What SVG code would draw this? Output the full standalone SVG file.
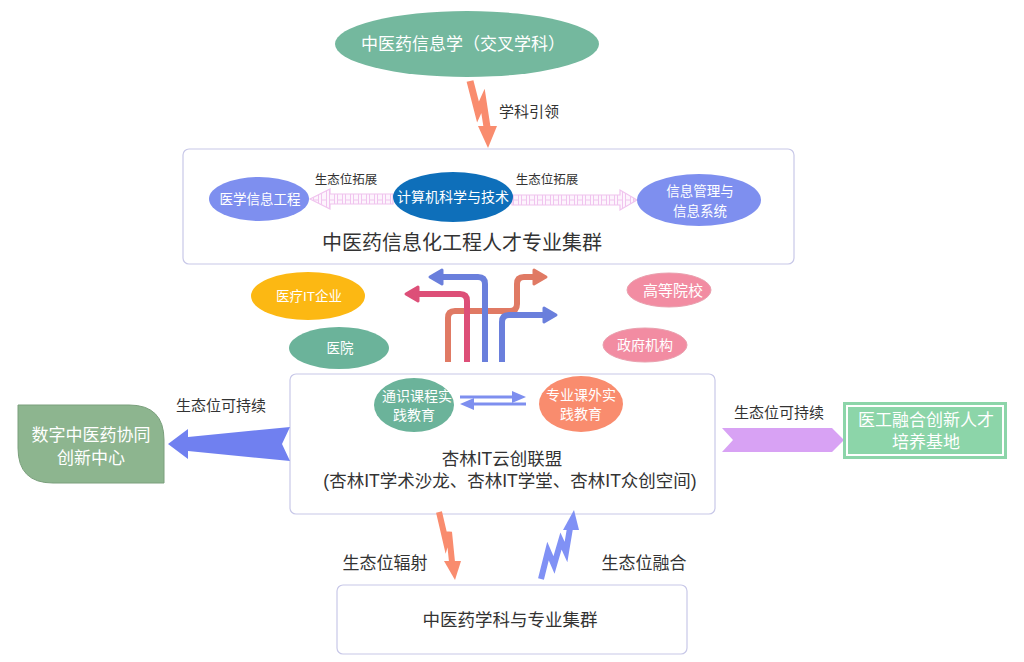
<svg xmlns="http://www.w3.org/2000/svg" width="1024" height="662" viewBox="0 0 1024 662">
<defs>
<style>
.t{font-family:"Liberation Sans","Noto Sans CJK SC",sans-serif;}
.w{fill:#ffffff;}
.d{fill:#333333;}
.box{fill:#ffffff;stroke:#c8c8e8;stroke-width:1.2;}
.br{fill:none;stroke-width:6;stroke-linejoin:round;stroke-linecap:butt;}
</style>
<pattern id="dash" x="0" y="0" width="8" height="20" patternUnits="userSpaceOnUse">
<rect x="0" y="0" width="8" height="20" fill="#fdf4fd"/>
<rect x="1.5" y="0" width="5" height="20" fill="none" stroke="#f0c4ee" stroke-width="1"/>
</pattern>
</defs>
<rect width="1024" height="662" fill="#ffffff"/>

<g id="node-cluster1" class="t">
<rect x="183" y="149" width="611" height="115" rx="6" class="box"/>
<text x="462" y="250" font-size="20" text-anchor="middle" class="d">中医药信息化工程人才专业集群</text>
</g>
<g id="node-alliance" class="t">
<rect x="290" y="374" width="425" height="140" rx="6" class="box"/>
<text x="502" y="465" font-size="17.5" text-anchor="middle" class="d">杏林IT云创联盟</text>
<text x="510" y="487" font-size="17.5" text-anchor="middle" class="d">(杏林IT学术沙龙、杏林IT学堂、杏林IT众创空间)</text>
</g>
<g id="node-cluster2" class="t">
<rect x="337" y="585" width="350" height="69" rx="6" class="box"/>
<text x="510" y="626" font-size="17.5" text-anchor="middle" class="d">中医药学科与专业集群</text>
</g>

<g id="connectors">
<!-- 学科引领 -->
<polyline points="470,81 478,112 483,101 487,127" fill="none" stroke="#f98c6e" stroke-width="7" stroke-linejoin="miter"/>
<polygon points="478,126 497,126 488,148" fill="#f98c6e"/>
<!-- dashed block arrows -->
<polygon points="393,194 330,194 330,189 310,199 330,209 330,204 393,204" fill="url(#dash)" stroke="#f0c4ee" stroke-width="1.2"/>
<polygon points="512,195 620,195 620,190 637,200 620,210 620,205 512,205" fill="url(#dash)" stroke="#f0c4ee" stroke-width="1.2"/>
<!-- branching arrows -->
<path class="br" d="M448,362 V318 Q448,311 455,311 H510 Q517,311 517,304 V284 Q517,277 524,277 H538" stroke="#e07a64"/>
<polygon points="534,270 546,277 534,284" fill="#e07a64" stroke="#e07a64" stroke-width="3" stroke-linejoin="round"/>
<path class="br" d="M467,362 V301 Q467,294 460,294 H414" stroke="#dd4f78"/>
<polygon points="418,287 406,294 418,301" fill="#dd4f78" stroke="#dd4f78" stroke-width="3" stroke-linejoin="round"/>
<path class="br" d="M485,362 V284 Q485,277 478,277 H438" stroke="#6a7fdc"/>
<polygon points="442,270 430,277 442,284" fill="#6a7fdc" stroke="#6a7fdc" stroke-width="3" stroke-linejoin="round"/>
<path class="br" d="M502,362 V322 Q502,315 509,315 H548" stroke="#6a7fdc"/>
<polygon points="544,308 556,315 544,322" fill="#6a7fdc" stroke="#6a7fdc" stroke-width="3" stroke-linejoin="round"/>
<!-- double arrows in alliance box -->
<line x1="460" y1="397" x2="516" y2="397" stroke="#7e8fef" stroke-width="3"/>
<polygon points="512,391 526,397 512,403" fill="#7e8fef"/>
<line x1="526" y1="404" x2="470" y2="404" stroke="#7e8fef" stroke-width="3"/>
<polygon points="474,398 460,404 474,410" fill="#7e8fef"/>
<!-- left big arrow -->
<polygon points="290,427 282,444 290,461 188,451 188,459 168,444 188,429 188,437" fill="#7080f0"/>
<!-- right chevron -->
<polygon points="722,428 832,428 844,440 832,452 722,452 733,440" fill="#d8a2f4"/>
<!-- 生态位辐射 -->
<polyline points="439,512 446,542 449,532 452,562" fill="none" stroke="#f98c6e" stroke-width="6" stroke-linejoin="miter"/>
<polygon points="444,561 461,561 455,580" fill="#f98c6e"/>
<!-- 生态位融合 -->
<polyline points="541,579 548,551 554,565 561,541 566,552 570,528" fill="none" stroke="#8091f5" stroke-width="6" stroke-linejoin="miter"/>
<polygon points="563,530 579,530 574,510" fill="#8091f5"/>
</g>

<g id="labels" class="t">
<text x="529" y="117" font-size="15" text-anchor="middle" class="d">学科引领</text>
<text x="346" y="184" font-size="12.5" text-anchor="middle" class="d">生态位拓展</text>
<text x="547" y="184" font-size="12.5" text-anchor="middle" class="d">生态位拓展</text>
<text x="221" y="411" font-size="15" text-anchor="middle" class="d">生态位可持续</text>
<text x="779" y="418" font-size="15" text-anchor="middle" class="d">生态位可持续</text>
<text x="385" y="569" font-size="17" text-anchor="middle" class="d">生态位辐射</text>
<text x="644" y="569" font-size="17" text-anchor="middle" class="d">生态位融合</text>
</g>

<g id="node-tcm-info" class="t">
<ellipse cx="467" cy="44" rx="132" ry="33" fill="#74b89e"/>
<text x="463" y="50" font-size="17" text-anchor="middle" class="w">中医药信息学（交叉学科）</text>
</g>

<g id="node-med-info" class="t">
<ellipse cx="259" cy="199" rx="50" ry="22" fill="#7e8fef"/>
<text x="260" y="204" font-size="13.5" text-anchor="middle" class="w">医学信息工程</text>
</g>
<g id="node-cs" class="t">
<ellipse cx="453" cy="197" rx="60" ry="25" fill="#0e6fba"/>
<text x="453" y="202" font-size="14" text-anchor="middle" class="w">计算机科学与技术</text>
</g>
<g id="node-ims" class="t">
<ellipse cx="699" cy="200" rx="62" ry="26" fill="#7e8fef"/>
<text x="700" y="196" font-size="13.5" text-anchor="middle" class="w">信息管理与</text>
<text x="700" y="216" font-size="13.5" text-anchor="middle" class="w">信息系统</text>
</g>

<g id="node-it-company" class="t">
<ellipse cx="308" cy="296" rx="57" ry="24" fill="#fcb813"/>
<text x="309" y="301" font-size="13.5" text-anchor="middle" class="w">医疗IT企业</text>
</g>
<g id="node-hospital" class="t">
<ellipse cx="339" cy="348" rx="50" ry="21" fill="#6bb39a"/>
<text x="340" y="353" font-size="13.5" text-anchor="middle" class="w">医院</text>
</g>
<g id="node-university" class="t">
<ellipse cx="669" cy="290" rx="42" ry="17" fill="#f28ca2" stroke="#e9a0ae" stroke-width="1"/>
<text x="673" y="296" font-size="15" text-anchor="middle" class="w">高等院校</text>
</g>
<g id="node-gov" class="t">
<ellipse cx="645" cy="345" rx="42" ry="17" fill="#f28ca2" stroke="#e9a0ae" stroke-width="1"/>
<text x="645" y="350" font-size="14" text-anchor="middle" class="w">政府机构</text>
</g>

<g id="node-general" class="t">
<ellipse cx="414" cy="405" rx="40" ry="27" fill="#6bb39a"/>
<text x="417" y="401" font-size="14" text-anchor="middle" class="w">通识课程实</text>
<text x="414" y="420" font-size="14" text-anchor="middle" class="w">践教育</text>
</g>
<g id="node-major" class="t">
<ellipse cx="581" cy="404" rx="42" ry="28" fill="#f98c6e"/>
<text x="581" y="400" font-size="14" text-anchor="middle" class="w">专业课外实</text>
<text x="581" y="419" font-size="14" text-anchor="middle" class="w">践教育</text>
</g>

<g id="node-digital-center" class="t">
<path d="M18,405 H129 Q164,405 164,440 V483 H53 Q18,483 18,448 Z" fill="#8db58f" stroke="#7a9f7c" stroke-width="1"/>
<text x="91" y="441" font-size="17" text-anchor="middle" class="w">数字中医药协同</text>
<text x="91" y="464" font-size="17" text-anchor="middle" class="w">创新中心</text>
</g>

<g id="node-base" class="t">
<rect x="843" y="402" width="164" height="57" fill="#8cd5a9"/>
<rect x="847" y="406" width="156" height="49" fill="none" stroke="#ffffff" stroke-width="2"/>
<text x="926" y="426" font-size="17" text-anchor="middle" class="w">医工融合创新人才</text>
<text x="926" y="448" font-size="17" text-anchor="middle" class="w">培养基地</text>
</g>
</svg>
